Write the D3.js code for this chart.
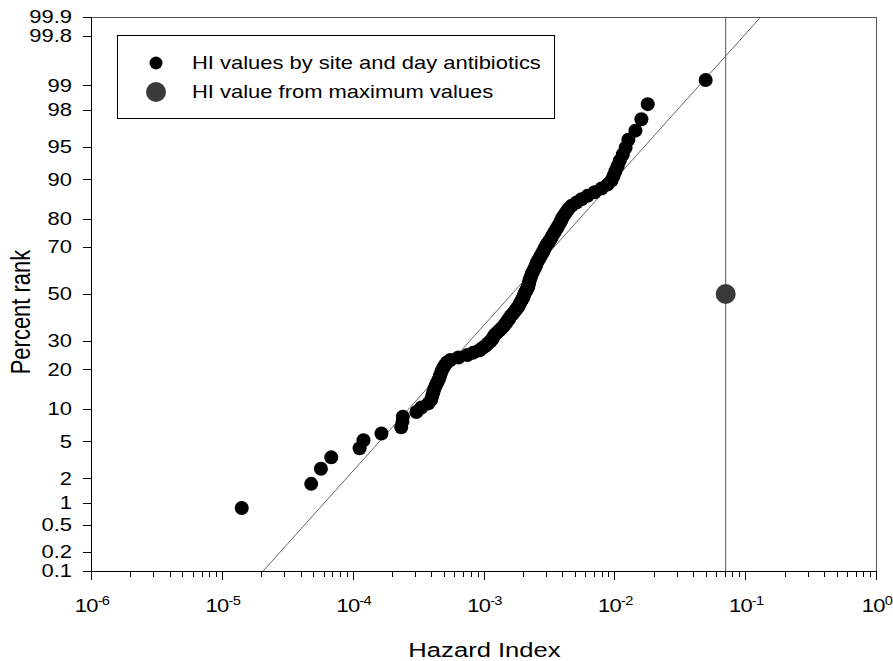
<!DOCTYPE html>
<html>
<head>
<meta charset="utf-8">
<script src="https://cdn.jsdelivr.net/npm/d3@7/dist/d3.min.js"></script>
<style>
  html, body { margin: 0; padding: 0; background: #fff; }
  svg { display: block; font-family: "Liberation Sans", Arial, sans-serif; }
</style>
</head>
<body>
<svg id="chart" width="893" height="661"></svg>
<script>
// ---- data ----
const hiValues = [
  1.42e-5, 4.82e-5, 5.72e-5, 6.86e-5, 1.13e-4, 1.21e-4, 1.66e-4, 2.35e-4, 2.40e-4, 2.42e-4,
  3.07e-4, 3.35e-4, 3.79e-4, 3.99e-4, 4.06e-4, 4.14e-4, 4.21e-4, 4.32e-4, 4.44e-4, 4.56e-4,
  4.64e-4, 4.72e-4, 4.81e-4, 4.93e-4, 5.07e-4, 5.25e-4, 5.58e-4, 6.43e-4, 7.53e-4, 8.37e-4,
  9.31e-4, 9.82e-4, 1.04e-3, 1.08e-3, 1.13e-3, 1.17e-3, 1.19e-3, 1.22e-3, 1.27e-3, 1.32e-3,
  1.37e-3, 1.42e-3, 1.46e-3, 1.50e-3, 1.54e-3, 1.58e-3, 1.61e-3, 1.66e-3, 1.71e-3, 1.75e-3,
  1.80e-3, 1.85e-3, 1.88e-3, 1.91e-3, 1.95e-3, 1.99e-3, 2.02e-3, 2.04e-3, 2.07e-3, 2.11e-3,
  2.15e-3, 2.19e-3, 2.21e-3, 2.22e-3, 2.24e-3, 2.26e-3, 2.29e-3, 2.32e-3, 2.34e-3, 2.39e-3,
  2.43e-3, 2.47e-3, 2.52e-3, 2.54e-3, 2.58e-3, 2.65e-3, 2.70e-3, 2.75e-3, 2.82e-3, 2.87e-3,
  2.92e-3, 2.98e-3, 3.05e-3, 3.14e-3, 3.22e-3, 3.31e-3, 3.37e-3, 3.46e-3, 3.55e-3, 3.65e-3,
  3.74e-3, 3.85e-3, 3.94e-3, 4.02e-3, 4.16e-3, 4.31e-3, 4.47e-3, 4.71e-3, 5.14e-3, 5.61e-3,
  6.24e-3, 7.06e-3, 7.98e-3, 8.87e-3, 9.52e-3, 9.86e-3, 1.02e-2, 1.06e-2, 1.10e-2, 1.16e-2,
  1.22e-2, 1.28e-2, 1.45e-2, 1.61e-2, 1.80e-2, 4.99e-2
];
const percentRanks = [
  0.85, 1.71, 2.56, 3.42, 4.27, 5.13, 5.98, 6.84, 7.69, 8.55,
  9.40, 10.26, 11.11, 11.97, 12.82, 13.68, 14.53, 15.38, 16.24, 17.09,
  17.95, 18.80, 19.66, 20.51, 21.37, 22.22, 23.08, 23.93, 24.79, 25.64,
  26.50, 27.35, 28.21, 29.06, 29.91, 30.77, 31.62, 32.48, 33.33, 34.19,
  35.04, 35.90, 36.75, 37.61, 38.46, 39.32, 40.17, 41.03, 41.88, 42.74,
  43.59, 44.44, 45.30, 46.15, 47.01, 47.86, 48.72, 49.57, 50.43, 51.28,
  52.14, 52.99, 53.85, 54.70, 55.56, 56.41, 57.26, 58.12, 58.97, 59.83,
  60.68, 61.54, 62.39, 63.25, 64.10, 64.96, 65.81, 66.67, 67.52, 68.38,
  69.23, 70.09, 70.94, 71.79, 72.65, 73.50, 74.36, 75.21, 76.07, 76.92,
  77.78, 78.63, 79.49, 80.34, 81.20, 82.05, 82.91, 83.76, 84.62, 85.47,
  86.32, 87.18, 88.03, 88.89, 89.74, 90.60, 91.45, 92.31, 93.16, 94.02,
  94.87, 95.73, 96.58, 97.44, 98.29, 99.15
];
const maxValueHI = [0.071];
const maxValueRank = [50];
const fitLineHI = [2.07e-5, 0.1315];
const fitLineRank = [0.1, 99.9];
const yTickValues = [0.1, 0.2, 0.5, 1, 2, 5, 10, 20, 30, 50, 70, 80, 90, 95, 98, 99, 99.8, 99.9];
const xTickExponents = [-6, -5, -4, -3, -2, -1, 0];
const legendLabels = ["HI values by site and day antibiotics", "HI value from maximum values"];

// ---- inverse normal CDF (Acklam) ----
function probit(p) {
  const a = [-3.969683028665376e+01, 2.209460984245205e+02, -2.759285104469687e+02, 1.383577518672690e+02, -3.066479806614716e+01, 2.506628277459239e+00];
  const b = [-5.447609879822406e+01, 1.615858368580409e+02, -1.556989798598866e+02, 6.680131188771972e+01, -1.328068155288572e+01];
  const c = [-7.784894002430293e-03, -3.223964580411365e-01, -2.400758277161838e+00, -2.549732539343734e+00, 4.374664141464968e+00, 2.938163982698783e+00];
  const d = [7.784695709041462e-03, 3.224671290700398e-01, 2.445134137142996e+00, 3.754408661907416e+00];
  const plow = 0.02425, phigh = 1 - plow;
  let q, r;
  if (p < plow) {
    q = Math.sqrt(-2 * Math.log(p));
    return (((((c[0]*q+c[1])*q+c[2])*q+c[3])*q+c[4])*q+c[5]) / ((((d[0]*q+d[1])*q+d[2])*q+d[3])*q+1);
  } else if (p <= phigh) {
    q = p - 0.5; r = q*q;
    return (((((a[0]*r+a[1])*r+a[2])*r+a[3])*r+a[4])*r+a[5])*q / (((((b[0]*r+b[1])*r+b[2])*r+b[3])*r+b[4])*r+1);
  } else {
    q = Math.sqrt(-2 * Math.log(1 - p));
    return -(((((c[0]*q+c[1])*q+c[2])*q+c[3])*q+c[4])*q+c[5]) / ((((d[0]*q+d[1])*q+d[2])*q+d[3])*q+1);
  }
}

// ---- layout ----
const L = 91, R = 876, T = 17, B = 571;
const SX = 1.22; // horizontal stretch of text, as in the reference
const svg = d3.select("#chart");

const x = d3.scaleLog().domain([1e-6, 1]).range([L, R]);
const yz = d3.scaleLinear().domain([probit(0.001), probit(0.999)]).range([B, T]);
const y = p => yz(probit(p / 100));

svg.append("defs").append("clipPath").attr("id", "plotclip")
  .append("rect").attr("x", L).attr("y", T).attr("width", R - L).attr("height", B - T);

// frame (top & right)
svg.append("line").attr("x1", L).attr("x2", R).attr("y1", T + 0.5).attr("y2", T + 0.5)
  .attr("stroke", "#555").attr("stroke-width", 1);
svg.append("line").attr("x1", R + 0.5).attr("x2", R + 0.5).attr("y1", T).attr("y2", B)
  .attr("stroke", "#555").attr("stroke-width", 1);

// vertical line at max-value HI
svg.append("line")
  .attr("x1", x(maxValueHI[0])).attr("x2", x(maxValueHI[0]))
  .attr("y1", T).attr("y2", B)
  .attr("stroke", "#555").attr("stroke-width", 1);

// fit line
svg.append("line")
  .attr("clip-path", "url(#plotclip)")
  .attr("x1", x(fitLineHI[0])).attr("y1", y(fitLineRank[0]))
  .attr("x2", x(fitLineHI[1])).attr("y2", y(fitLineRank[1]))
  .attr("stroke", "#666").attr("stroke-width", 1);

// data points
const pts = hiValues.map((v, i) => ({ v, p: percentRanks[i] }));
svg.append("g").selectAll("circle").data(pts).join("circle")
  .attr("cx", d => x(d.v)).attr("cy", d => y(d.p)).attr("r", 7)
  .attr("fill", "#000");

// max-value point
svg.append("circle")
  .attr("cx", x(maxValueHI[0])).attr("cy", y(maxValueRank[0])).attr("r", 10)
  .attr("fill", "#3a3a3a");

// ---- y axis ----
const ya = svg.append("g");
ya.append("line").attr("x1", L + 0.5).attr("x2", L + 0.5).attr("y1", T).attr("y2", B + 0.5)
  .attr("stroke", "#000");
ya.selectAll("line.tk").data(yTickValues).join("line").attr("class", "tk")
  .attr("x1", L - 8).attr("x2", L).attr("y1", d => Math.round(y(d)) + 0.5).attr("y2", d => Math.round(y(d)) + 0.5)
  .attr("stroke", "#000");
ya.selectAll("g.lbl").data(yTickValues).join("g").attr("class", "lbl")
  .attr("transform", d => `translate(${L - 19},${y(d)}) scale(${SX},1)`)
  .append("text").attr("dy", "0.36em")
  .attr("text-anchor", "end").attr("font-size", 18).attr("fill", "#000")
  .text(d => String(d));

// ---- x axis ----
const xa = svg.append("g");
xa.append("line").attr("x1", L).attr("x2", R + 1).attr("y1", B + 0.5).attr("y2", B + 0.5)
  .attr("stroke", "#000");
const minor = [];
for (let e = -6; e < 0; e++) for (let m = 2; m <= 9; m++) minor.push(m * Math.pow(10, e));
xa.selectAll("line.mn").data(minor).join("line").attr("class", "mn")
  .attr("x1", d => Math.round(x(d)) + 0.5).attr("x2", d => Math.round(x(d)) + 0.5)
  .attr("y1", B).attr("y2", B + 6).attr("stroke", "#000");
xa.selectAll("line.mj").data(xTickExponents).join("line").attr("class", "mj")
  .attr("x1", d => Math.round(x(Math.pow(10, d))) + 0.5).attr("x2", d => Math.round(x(Math.pow(10, d))) + 0.5)
  .attr("y1", B).attr("y2", B + 9).attr("stroke", "#000");
const xl = xa.selectAll("g.xl").data(xTickExponents).join("g").attr("class", "xl")
  .attr("transform", d => `translate(${x(Math.pow(10, d)) + 1},612) scale(${SX},1)`)
  .append("text")
  .attr("text-anchor", "middle").attr("font-size", 18).attr("fill", "#000")
  .attr("letter-spacing", "-0.6");
xl.append("tspan").text("10");
xl.append("tspan").attr("font-size", 12).attr("dy", -7).text(d => d === 0 ? "0" : "-" + Math.abs(d));

// axis titles
svg.append("g").attr("transform", `translate(${(L + R) / 2 + 1},657) scale(${SX},1)`)
  .append("text").attr("text-anchor", "middle")
  .attr("font-size", 21).attr("fill", "#000").text("Hazard Index");
svg.append("g").attr("transform", `translate(30,312) scale(${SX},1) rotate(-90)`)
  .append("text").attr("text-anchor", "middle")
  .attr("font-size", 22).attr("fill", "#000").text("Percent rank");

// ---- legend ----
const lg = svg.append("g");
lg.append("rect").attr("x", 117.5).attr("y", 35.5).attr("width", 437).attr("height", 83)
  .attr("fill", "#fff").attr("stroke", "#000");
lg.append("circle").attr("cx", 156).attr("cy", 63).attr("r", 6.5).attr("fill", "#000");
lg.append("circle").attr("cx", 156).attr("cy", 92).attr("r", 10).attr("fill", "#3a3a3a");
lg.selectAll("g.lt").data(legendLabels).join("g").attr("class", "lt")
  .attr("transform", (d, i) => `translate(192,${63 + i * 29}) scale(${SX},1)`)
  .append("text").attr("dy", "0.36em")
  .attr("font-size", 18).attr("fill", "#000").text(d => d);
</script>
</body>
</html>
